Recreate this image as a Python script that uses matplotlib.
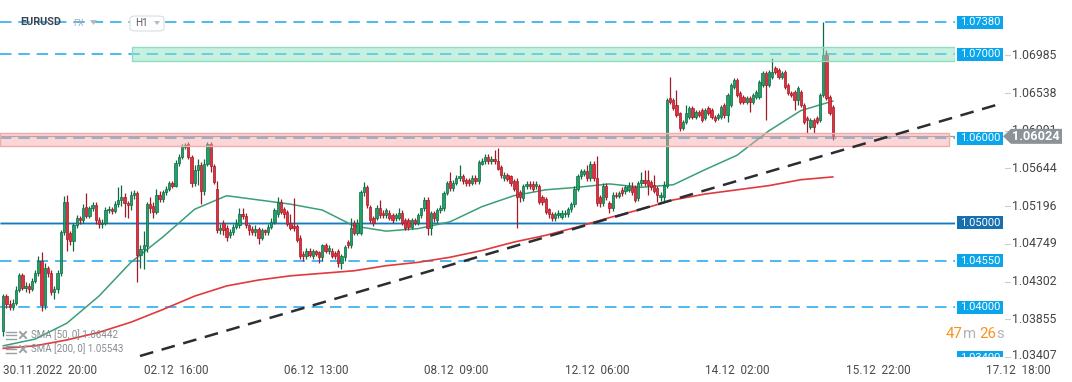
import numpy as np
import matplotlib
matplotlib.use("Agg")
import matplotlib.pyplot as plt
from matplotlib.patches import Rectangle, Polygon, FancyBboxPatch
from matplotlib.transforms import blended_transform_factory, Bbox, TransformedBbox

plt.rcParams["font.family"] = ["Roboto", "DejaVu Sans"]

# EURUSD H1 candles, hour 0 = 30.11.2022 20:00 (trading hours only)
opens = [
    1.0372, 1.0413, 1.0404, 1.0400, 1.0405, 1.0420, 1.0438, 1.0422, 1.0425, 1.0421,
    1.0431, 1.0440, 1.0454, 1.0402, 1.0446, 1.0440, 1.0418, 1.0421, 1.0440, 1.0489,
    1.0525, 1.0488, 1.0478, 1.0497, 1.0505, 1.0503, 1.0519, 1.0508, 1.0517, 1.0521,
    1.0503, 1.0498, 1.0500, 1.0515, 1.0516, 1.0514, 1.0522, 1.0527, 1.0530, 1.0523,
    1.0521, 1.0533, 1.0535, 1.0462, 1.0469, 1.0472, 1.0522, 1.0520, 1.0513, 1.0533,
    1.0528, 1.0536, 1.0540, 1.0547, 1.0544, 1.0571, 1.0578, 1.0590, 1.0593, 1.0578,
    1.0547, 1.0562, 1.0568, 1.0537, 1.0570, 1.0593, 1.0567, 1.0540, 1.0491, 1.0500,
    1.0494, 1.0485, 1.0489, 1.0495, 1.0497, 1.0510, 1.0508, 1.0497, 1.0493, 1.0489,
    1.0493, 1.0482, 1.0491, 1.0489, 1.0495, 1.0501, 1.0510, 1.0525, 1.0516, 1.0513,
    1.0500, 1.0496, 1.0496, 1.0482, 1.0463, 1.0460, 1.0467, 1.0461, 1.0466, 1.0465,
    1.0459, 1.0473, 1.0467, 1.0467, 1.0464, 1.0467, 1.0452, 1.0459, 1.0477, 1.0473,
    1.0500, 1.0488, 1.0488, 1.0536, 1.0542, 1.0519, 1.0505, 1.0506, 1.0517, 1.0512,
    1.0509, 1.0512, 1.0509, 1.0505, 1.0505, 1.0512, 1.0503, 1.0503, 1.0495, 1.0503,
    1.0500, 1.0509, 1.0517, 1.0527, 1.0494, 1.0511, 1.0503, 1.0515, 1.0517, 1.0535,
    1.0549, 1.0541, 1.0547, 1.0553, 1.0555, 1.0551, 1.0551, 1.0547, 1.0553, 1.0549,
    1.0570, 1.0573, 1.0578, 1.0573, 1.0576, 1.0573, 1.0566, 1.0553, 1.0556, 1.0555,
    1.0550, 1.0550, 1.0536, 1.0529, 1.0543, 1.0546, 1.0546, 1.0543, 1.0543, 1.0531,
    1.0528, 1.0516, 1.0510, 1.0506, 1.0509, 1.0507, 1.0510, 1.0510, 1.0516, 1.0522,
    1.0540, 1.0555, 1.0558, 1.0561, 1.0553, 1.0570, 1.0553, 1.0530, 1.0523, 1.0544,
    1.0523, 1.0517, 1.0533, 1.0532, 1.0539, 1.0537, 1.0539, 1.0542, 1.0542, 1.0529,
    1.0547, 1.0551, 1.0551, 1.0548, 1.0545, 1.0541, 1.0530, 1.0530, 1.0544, 1.0648,
    1.0645, 1.0640, 1.0630, 1.0612, 1.0620, 1.0625, 1.0636, 1.0625, 1.0631, 1.0634,
    1.0624, 1.0636, 1.0634, 1.0625, 1.0624, 1.0625, 1.0640, 1.0628, 1.0640, 1.0661,
    1.0669, 1.0654, 1.0649, 1.0643, 1.0648, 1.0643, 1.0649, 1.0649, 1.0663, 1.0678,
    1.0663, 1.0673, 1.0683, 1.0681, 1.0673, 1.0679, 1.0663, 1.0654, 1.0655, 1.0645,
    1.0655, 1.0640, 1.0624, 1.0614, 1.0622, 1.0624, 1.0622, 1.0651, 1.0699, 1.0649,
    1.0637,
]
highs = [
    1.0415, 1.0416, 1.0408, 1.0409, 1.0425, 1.0440, 1.0440, 1.0430, 1.0428, 1.0434,
    1.0444, 1.0461, 1.0465, 1.0452, 1.0449, 1.0444, 1.0425, 1.0444, 1.0491, 1.0532,
    1.0533, 1.0490, 1.0500, 1.0509, 1.0508, 1.0522, 1.0535, 1.0520, 1.0525, 1.0524,
    1.0507, 1.0504, 1.0519, 1.0520, 1.0519, 1.0526, 1.0542, 1.0545, 1.0535, 1.0526,
    1.0537, 1.0539, 1.0537, 1.0474, 1.0490, 1.0525, 1.0530, 1.0525, 1.0540, 1.0537,
    1.0539, 1.0544, 1.0550, 1.0550, 1.0574, 1.0582, 1.0593, 1.0595, 1.0596, 1.0580,
    1.0568, 1.0575, 1.0572, 1.0575, 1.0596, 1.0596, 1.0570, 1.0550, 1.0498, 1.0503,
    1.0497, 1.0493, 1.0498, 1.0504, 1.0518, 1.0517, 1.0511, 1.0499, 1.0496, 1.0497,
    1.0495, 1.0494, 1.0493, 1.0499, 1.0505, 1.0518, 1.0531, 1.0528, 1.0519, 1.0515,
    1.0510, 1.0529, 1.0499, 1.0485, 1.0466, 1.0470, 1.0470, 1.0469, 1.0468, 1.0467,
    1.0475, 1.0476, 1.0473, 1.0470, 1.0467, 1.0469, 1.0463, 1.0474, 1.0480, 1.0506,
    1.0503, 1.0504, 1.0539, 1.0548, 1.0545, 1.0521, 1.0508, 1.0521, 1.0527, 1.0515,
    1.0518, 1.0515, 1.0511, 1.0512, 1.0518, 1.0515, 1.0505, 1.0505, 1.0506, 1.0506,
    1.0512, 1.0518, 1.0530, 1.0530, 1.0514, 1.0514, 1.0518, 1.0521, 1.0538, 1.0550,
    1.0560, 1.0551, 1.0557, 1.0568, 1.0558, 1.0553, 1.0553, 1.0556, 1.0556, 1.0574,
    1.0577, 1.0581, 1.0582, 1.0579, 1.0586, 1.0588, 1.0568, 1.0560, 1.0559, 1.0557,
    1.0552, 1.0553, 1.0539, 1.0546, 1.0549, 1.0549, 1.0549, 1.0549, 1.0546, 1.0533,
    1.0530, 1.0518, 1.0513, 1.0513, 1.0515, 1.0515, 1.0515, 1.0519, 1.0525, 1.0543,
    1.0558, 1.0564, 1.0564, 1.0568, 1.0573, 1.0573, 1.0579, 1.0533, 1.0547, 1.0547,
    1.0526, 1.0536, 1.0536, 1.0538, 1.0542, 1.0545, 1.0548, 1.0548, 1.0545, 1.0550,
    1.0560, 1.0563, 1.0563, 1.0551, 1.0557, 1.0544, 1.0536, 1.0549, 1.0648, 1.0673,
    1.0648, 1.0657, 1.0631, 1.0622, 1.0640, 1.0638, 1.0638, 1.0634, 1.0634, 1.0636,
    1.0636, 1.0638, 1.0636, 1.0628, 1.0630, 1.0640, 1.0642, 1.0654, 1.0666, 1.0672,
    1.0672, 1.0656, 1.0651, 1.0650, 1.0650, 1.0654, 1.0657, 1.0669, 1.0680, 1.0680,
    1.0681, 1.0695, 1.0686, 1.0683, 1.0680, 1.0681, 1.0666, 1.0656, 1.0657, 1.0662,
    1.0657, 1.0642, 1.0626, 1.0624, 1.0624, 1.0626, 1.0654, 1.0738, 1.0705, 1.0651,
    1.0640,
]
lows = [
    1.0366, 1.0399, 1.0396, 1.0397, 1.0402, 1.0418, 1.0420, 1.0418, 1.0417, 1.0419,
    1.0428, 1.0437, 1.0395, 1.0398, 1.0436, 1.0414, 1.0410, 1.0417, 1.0437, 1.0485,
    1.0467, 1.0474, 1.0466, 1.0494, 1.0499, 1.0500, 1.0505, 1.0505, 1.0514, 1.0498,
    1.0494, 1.0494, 1.0497, 1.0511, 1.0510, 1.0511, 1.0519, 1.0520, 1.0507, 1.0505,
    1.0515, 1.0528, 1.0430, 1.0446, 1.0445, 1.0465, 1.0512, 1.0505, 1.0510, 1.0524,
    1.0524, 1.0533, 1.0537, 1.0541, 1.0542, 1.0567, 1.0575, 1.0587, 1.0575, 1.0542,
    1.0544, 1.0545, 1.0522, 1.0533, 1.0567, 1.0560, 1.0546, 1.0488, 1.0487, 1.0486,
    1.0478, 1.0482, 1.0486, 1.0492, 1.0494, 1.0504, 1.0494, 1.0486, 1.0485, 1.0484,
    1.0475, 1.0479, 1.0485, 1.0486, 1.0492, 1.0498, 1.0507, 1.0510, 1.0505, 1.0496,
    1.0491, 1.0490, 1.0477, 1.0457, 1.0455, 1.0457, 1.0459, 1.0457, 1.0460, 1.0452,
    1.0455, 1.0464, 1.0463, 1.0458, 1.0457, 1.0447, 1.0445, 1.0455, 1.0470, 1.0470,
    1.0485, 1.0486, 1.0485, 1.0532, 1.0518, 1.0500, 1.0496, 1.0503, 1.0506, 1.0505,
    1.0506, 1.0503, 1.0500, 1.0502, 1.0503, 1.0497, 1.0491, 1.0491, 1.0492, 1.0497,
    1.0497, 1.0506, 1.0514, 1.0485, 1.0485, 1.0501, 1.0500, 1.0511, 1.0514, 1.0533,
    1.0537, 1.0538, 1.0545, 1.0550, 1.0546, 1.0544, 1.0544, 1.0545, 1.0546, 1.0546,
    1.0568, 1.0570, 1.0570, 1.0570, 1.0570, 1.0562, 1.0553, 1.0550, 1.0549, 1.0544,
    1.0537, 1.0494, 1.0525, 1.0526, 1.0540, 1.0540, 1.0537, 1.0540, 1.0522, 1.0521,
    1.0510, 1.0506, 1.0502, 1.0502, 1.0505, 1.0504, 1.0507, 1.0507, 1.0513, 1.0519,
    1.0537, 1.0552, 1.0555, 1.0550, 1.0550, 1.0550, 1.0520, 1.0519, 1.0520, 1.0527,
    1.0511, 1.0514, 1.0529, 1.0529, 1.0532, 1.0534, 1.0536, 1.0533, 1.0524, 1.0526,
    1.0544, 1.0543, 1.0533, 1.0539, 1.0535, 1.0525, 1.0526, 1.0526, 1.0541, 1.0641,
    1.0634, 1.0625, 1.0609, 1.0610, 1.0617, 1.0623, 1.0623, 1.0623, 1.0625, 1.0620,
    1.0622, 1.0628, 1.0623, 1.0620, 1.0622, 1.0623, 1.0624, 1.0620, 1.0637, 1.0659,
    1.0649, 1.0641, 1.0641, 1.0641, 1.0631, 1.0641, 1.0647, 1.0647, 1.0661, 1.0622,
    1.0661, 1.0670, 1.0676, 1.0670, 1.0670, 1.0659, 1.0651, 1.0649, 1.0634, 1.0640,
    1.0637, 1.0617, 1.0606, 1.0611, 1.0606, 1.0617, 1.0620, 1.0649, 1.0645, 1.0628,
    1.0598,
]
closes = [
    1.0413, 1.0404, 1.0400, 1.0405, 1.0420, 1.0438, 1.0422, 1.0425, 1.0421, 1.0431,
    1.0440, 1.0454, 1.0402, 1.0446, 1.0440, 1.0418, 1.0421, 1.0440, 1.0489, 1.0525,
    1.0481, 1.0478, 1.0497, 1.0505, 1.0503, 1.0517, 1.0508, 1.0517, 1.0521, 1.0503,
    1.0498, 1.0500, 1.0515, 1.0516, 1.0514, 1.0522, 1.0527, 1.0530, 1.0523, 1.0521,
    1.0533, 1.0535, 1.0462, 1.0469, 1.0474, 1.0522, 1.0517, 1.0513, 1.0533, 1.0528,
    1.0536, 1.0540, 1.0547, 1.0544, 1.0571, 1.0578, 1.0590, 1.0592, 1.0578, 1.0547,
    1.0562, 1.0568, 1.0537, 1.0570, 1.0593, 1.0567, 1.0548, 1.0491, 1.0494, 1.0491,
    1.0483, 1.0489, 1.0495, 1.0500, 1.0510, 1.0508, 1.0497, 1.0491, 1.0489, 1.0493,
    1.0482, 1.0491, 1.0489, 1.0495, 1.0501, 1.0515, 1.0525, 1.0513, 1.0510, 1.0499,
    1.0494, 1.0494, 1.0480, 1.0461, 1.0460, 1.0467, 1.0462, 1.0466, 1.0463, 1.0459,
    1.0473, 1.0467, 1.0470, 1.0461, 1.0461, 1.0452, 1.0460, 1.0471, 1.0473, 1.0494,
    1.0488, 1.0500, 1.0536, 1.0542, 1.0521, 1.0503, 1.0500, 1.0518, 1.0509, 1.0509,
    1.0515, 1.0506, 1.0503, 1.0509, 1.0512, 1.0500, 1.0494, 1.0495, 1.0503, 1.0500,
    1.0509, 1.0517, 1.0527, 1.0494, 1.0511, 1.0505, 1.0515, 1.0517, 1.0535, 1.0547,
    1.0541, 1.0547, 1.0553, 1.0555, 1.0549, 1.0547, 1.0547, 1.0553, 1.0549, 1.0572,
    1.0573, 1.0578, 1.0573, 1.0576, 1.0573, 1.0564, 1.0556, 1.0556, 1.0552, 1.0547,
    1.0540, 1.0530, 1.0531, 1.0543, 1.0546, 1.0543, 1.0540, 1.0546, 1.0525, 1.0525,
    1.0513, 1.0510, 1.0506, 1.0510, 1.0512, 1.0512, 1.0512, 1.0516, 1.0522, 1.0540,
    1.0555, 1.0561, 1.0561, 1.0553, 1.0570, 1.0553, 1.0523, 1.0523, 1.0544, 1.0530,
    1.0517, 1.0533, 1.0532, 1.0535, 1.0535, 1.0542, 1.0543, 1.0536, 1.0527, 1.0547,
    1.0551, 1.0547, 1.0545, 1.0542, 1.0538, 1.0533, 1.0533, 1.0545, 1.0645, 1.0643,
    1.0636, 1.0628, 1.0612, 1.0620, 1.0630, 1.0636, 1.0625, 1.0631, 1.0628, 1.0622,
    1.0634, 1.0630, 1.0625, 1.0622, 1.0628, 1.0637, 1.0628, 1.0651, 1.0663, 1.0669,
    1.0651, 1.0643, 1.0643, 1.0648, 1.0643, 1.0651, 1.0655, 1.0667, 1.0678, 1.0663,
    1.0679, 1.0679, 1.0679, 1.0673, 1.0678, 1.0661, 1.0654, 1.0651, 1.0645, 1.0660,
    1.0640, 1.0620, 1.0622, 1.0622, 1.0614, 1.0620, 1.0651, 1.0699, 1.0648, 1.0630,
    1.06024,
]

# moving averages read every 10 candles
sma_hours = list(range(0, 261, 10))
sma50 = [1.0354, 1.0362, 1.0381, 1.0413, 1.0453, 1.0483, 1.0516, 1.0532, 1.0527,
         1.0522, 1.0515, 1.0496, 1.0490, 1.0493, 1.0501, 1.0519, 1.0532, 1.0539,
         1.0542, 1.0546, 1.0542, 1.0545, 1.0563, 1.0580, 1.0609, 1.0633, 1.06442]
sma200 = [1.0351, 1.0354, 1.0361, 1.0370, 1.0382, 1.0397, 1.0413, 1.0425, 1.0432,
          1.0437, 1.0440, 1.0443, 1.0449, 1.0453, 1.0459, 1.0467, 1.0477, 1.0485,
          1.0495, 1.0506, 1.0516, 1.0527, 1.0534, 1.0539, 1.0544, 1.0551, 1.05543]

trend_hours = [42.85, 313.4]
trend_prices = [1.03419, 1.06420]

levels = [1.07380, 1.07000, 1.06000, 1.05000, 1.04550, 1.04000, 1.03400]
zone_green = (1.06918, 1.07084)
zone_green_start = 40.3
zone_red = (1.05910, 1.06060)

right_ticks = [1.06985, 1.06538, 1.06091, 1.05644, 1.05196, 1.04749, 1.04302, 1.03855, 1.03407]
xtick_hours = [0, 44, 88, 132, 176, 220, 264, 308]
xtick_labels = ["30.11.2022  20:00", "02.12  16:00", "06.12  13:00", "08.12  09:00",
                "12.12  06:00", "14.12  02:00", "15.12  22:00", "17.12  18:00"]

W, H = 1072, 382
fig = plt.figure(figsize=(W / 100, H / 100), dpi=100)
ax = fig.add_axes([0, 20 / H, 955 / W, 362 / H])
X0, X1 = -1.03, 298.3
Y0, Y1 = 1.03348, 1.07641
ax.set_xlim(X0, X1)
ax.set_ylim(Y0, Y1)
ax.axis("off")

px = (Y1 - Y0) / 362  # price per pixel
blend = blended_transform_factory(fig.transFigure, ax.transData)
xblend = blended_transform_factory(ax.transData, fig.transFigure)
# the price pane really ends a few pixels above the time axis
clip = TransformedBbox(Bbox([[0, 25 / H], [1, 1]]), fig.transFigure)

BLUE = "#1ca6ef"
dash = (0, (7.5, 4.5))

# horizontal levels
for lv in levels:
    if lv == 1.05:
        ax.hlines(lv, X0, X1, color="#9ccdee", lw=2.0, zorder=1)
        ax.hlines(lv, X0, X1, color="#1b78b8", lw=0.9, zorder=1.1)
    else:
        ln = ax.hlines(lv, X0, X1, color=BLUE, lw=1.1, linestyles=dash, zorder=1)
        ln.set_clip_box(clip)
ax.axhline(closes[-1], color="#9b9b9b", lw=0.9, zorder=1)

# candles
o = np.array(opens); h = np.array(highs); l = np.array(lows); c = np.array(closes)
t = np.arange(len(c))
up = c >= o
fill = np.where(up, "#22a06a", "#e2303e")
edge = np.where(up, "#0e6b41", "#a11b26")
ax.vlines(t, l, h, colors=edge, lw=0.9, zorder=3)
body = np.maximum(np.abs(c - o), 0.6 * px)
ax.bar(t, body, bottom=np.minimum(o, c), width=0.72, color=fill,
       edgecolor=edge, linewidth=0.5, zorder=3.5)

# moving averages
ax.plot(sma_hours, sma50, color="#3a9f77", lw=1.1, zorder=2.6)
ax.plot(sma_hours, sma200, color="#e0393e", lw=1.2, zorder=2.6)

# zones
ax.add_patch(Rectangle((zone_green_start, zone_green[0]), X1 - zone_green_start,
                       zone_green[1] - zone_green[0], fc="#8fe3c3", alpha=0.5,
                       ec="none", zorder=4))
ax.add_patch(Rectangle((zone_green_start, zone_green[0]), X1 - zone_green_start,
                       zone_green[1] - zone_green[0], fc="none", ec="#8fdcbf",
                       lw=1.0, zorder=4.1))
ax.add_patch(Rectangle((X0, zone_red[0]), X1 - X0 - 2, zone_red[1] - zone_red[0],
                       fc="#f6a5a5", alpha=0.45, ec="none", zorder=4))
ax.add_patch(Rectangle((X0, zone_red[0]), X1 - X0 - 2, zone_red[1] - zone_red[0],
                       fc="none", ec="#f2abab", lw=1.0, zorder=4.1))

# trend line
ax.plot(trend_hours, trend_prices, color="#2a2d31", lw=1.8,
        ls=(0, (5.5, 3.5)), clip_on=False, zorder=5)

# right side: tick labels
for tk in right_ticks:
    ax.plot([1005 / W, 1010 / W], [tk, tk], transform=blend, color="#cfcfcf",
            lw=0.8, clip_on=False, zorder=6)
    va = "baseline" if tk == right_ticks[-1] else "center"
    ax.text(1012 / W, tk - (2 * px if va == "baseline" else 0), f"{tk:.5f}",
            transform=blend, fontsize=8.8, color="#454545", va=va, ha="left",
            clip_on=False, zorder=6)

# level label boxes
hh = 6.5 * px
for lv in levels:
    col = "#1670b0" if lv == 1.05 else "#0aa5ea"
    r = Rectangle((957 / W, lv - hh), 46 / W, 2 * hh, transform=blend, fc=col,
                  ec="none", zorder=7)
    ax.add_patch(r)
    tx = ax.text(980 / W, lv, f"{lv:.5f}", transform=blend, fontsize=8,
                 color="white", ha="center", va="center", zorder=8)
    r.set_clip_box(clip); tx.set_clip_box(clip)
    r.set_clip_on(True); tx.set_clip_on(True)

# current price tag
cp = closes[-1]
ph = 7.5 * px
ax.add_patch(Polygon([(1003 / W, cp), (1011 / W, cp + ph), (1062 / W, cp + ph),
                      (1062 / W, cp - ph), (1011 / W, cp - ph)],
                     closed=True, transform=blend, fc="#8b9298", ec="none",
                     clip_on=False, zorder=9))
ax.text(1036 / W, cp, f"{cp:.5f}", transform=blend, fontsize=9.2,
        fontweight="bold", color="white", ha="center", va="center",
        clip_on=False, zorder=10)

# x labels
for hr, lab in zip(xtick_hours, xtick_labels):
    ax.text(hr, 1 - 370 / H, lab, transform=xblend, fontsize=8.5, color="#4a4a4a",
            ha="left", va="center", clip_on=False)

# countdown
cy = 1 - 334 / H
for xx, s, col in [(946, "47", "#f7941d"), (963, "m", "#b3b3b3"),
                   (979, "26", "#f7941d"), (996, "s", "#b3b3b3")]:
    fig.text(xx / W, cy, s, fontsize=10.8, color=col, ha="left", va="center")

# header
fig.text(20 / W, 1 - 22 / H, "EURUSD", fontsize=7.8, fontweight="bold",
         color="#3b4652", va="center")
fig.text(73 / W, 1 - 23 / H, "FX", fontsize=6.5, color="#a6adb4", va="center")
fig.add_artist(Polygon([(90 / W, 1 - 20 / H), (97 / W, 1 - 20 / H), (93.5 / W, 1 - 25 / H)],
                       closed=True, transform=fig.transFigure, fc="#b5bbc1", ec="none"))
fig.add_artist(FancyBboxPatch((130 / W, 1 - 31 / H), 34 / W, 15 / H,
                              boxstyle="round,pad=0,rounding_size=0.006",
                              transform=fig.transFigure, fc="white", ec="#d9dde1", lw=0.8))
fig.text(135 / W, 1 - 23 / H, "H1", fontsize=7.2, color="#555b61", va="center")
fig.add_artist(Polygon([(154 / W, 1 - 21 / H), (160 / W, 1 - 21 / H), (157 / W, 1 - 25 / H)],
                       closed=True, transform=fig.transFigure, fc="#b5bbc1", ec="none"))

# indicator legend
for yy, lab in [(335, f"SMA [50, 0] {sma50[-1]:.5f}"), (349, f"SMA [200, 0] {sma200[-1]:.5f}")]:
    for dy in (-3.5, 0, 3.5):
        fig.add_artist(plt.Line2D([6 / W, 16 / W], [1 - (yy + dy) / H] * 2,
                                  transform=fig.transFigure, color="#9aa0a6", lw=1.0))
    fig.add_artist(plt.Line2D([20 / W, 26 / W], [1 - (yy - 3) / H, 1 - (yy + 3) / H],
                              transform=fig.transFigure, color="#9aa0a6", lw=1.4))
    fig.add_artist(plt.Line2D([20 / W, 26 / W], [1 - (yy + 3) / H, 1 - (yy - 3) / H],
                              transform=fig.transFigure, color="#9aa0a6", lw=1.4))
    fig.text(31 / W, 1 - yy / H, lab, fontsize=7, color="#868c92", va="center")

fig.savefig("out.png", dpi=100)
